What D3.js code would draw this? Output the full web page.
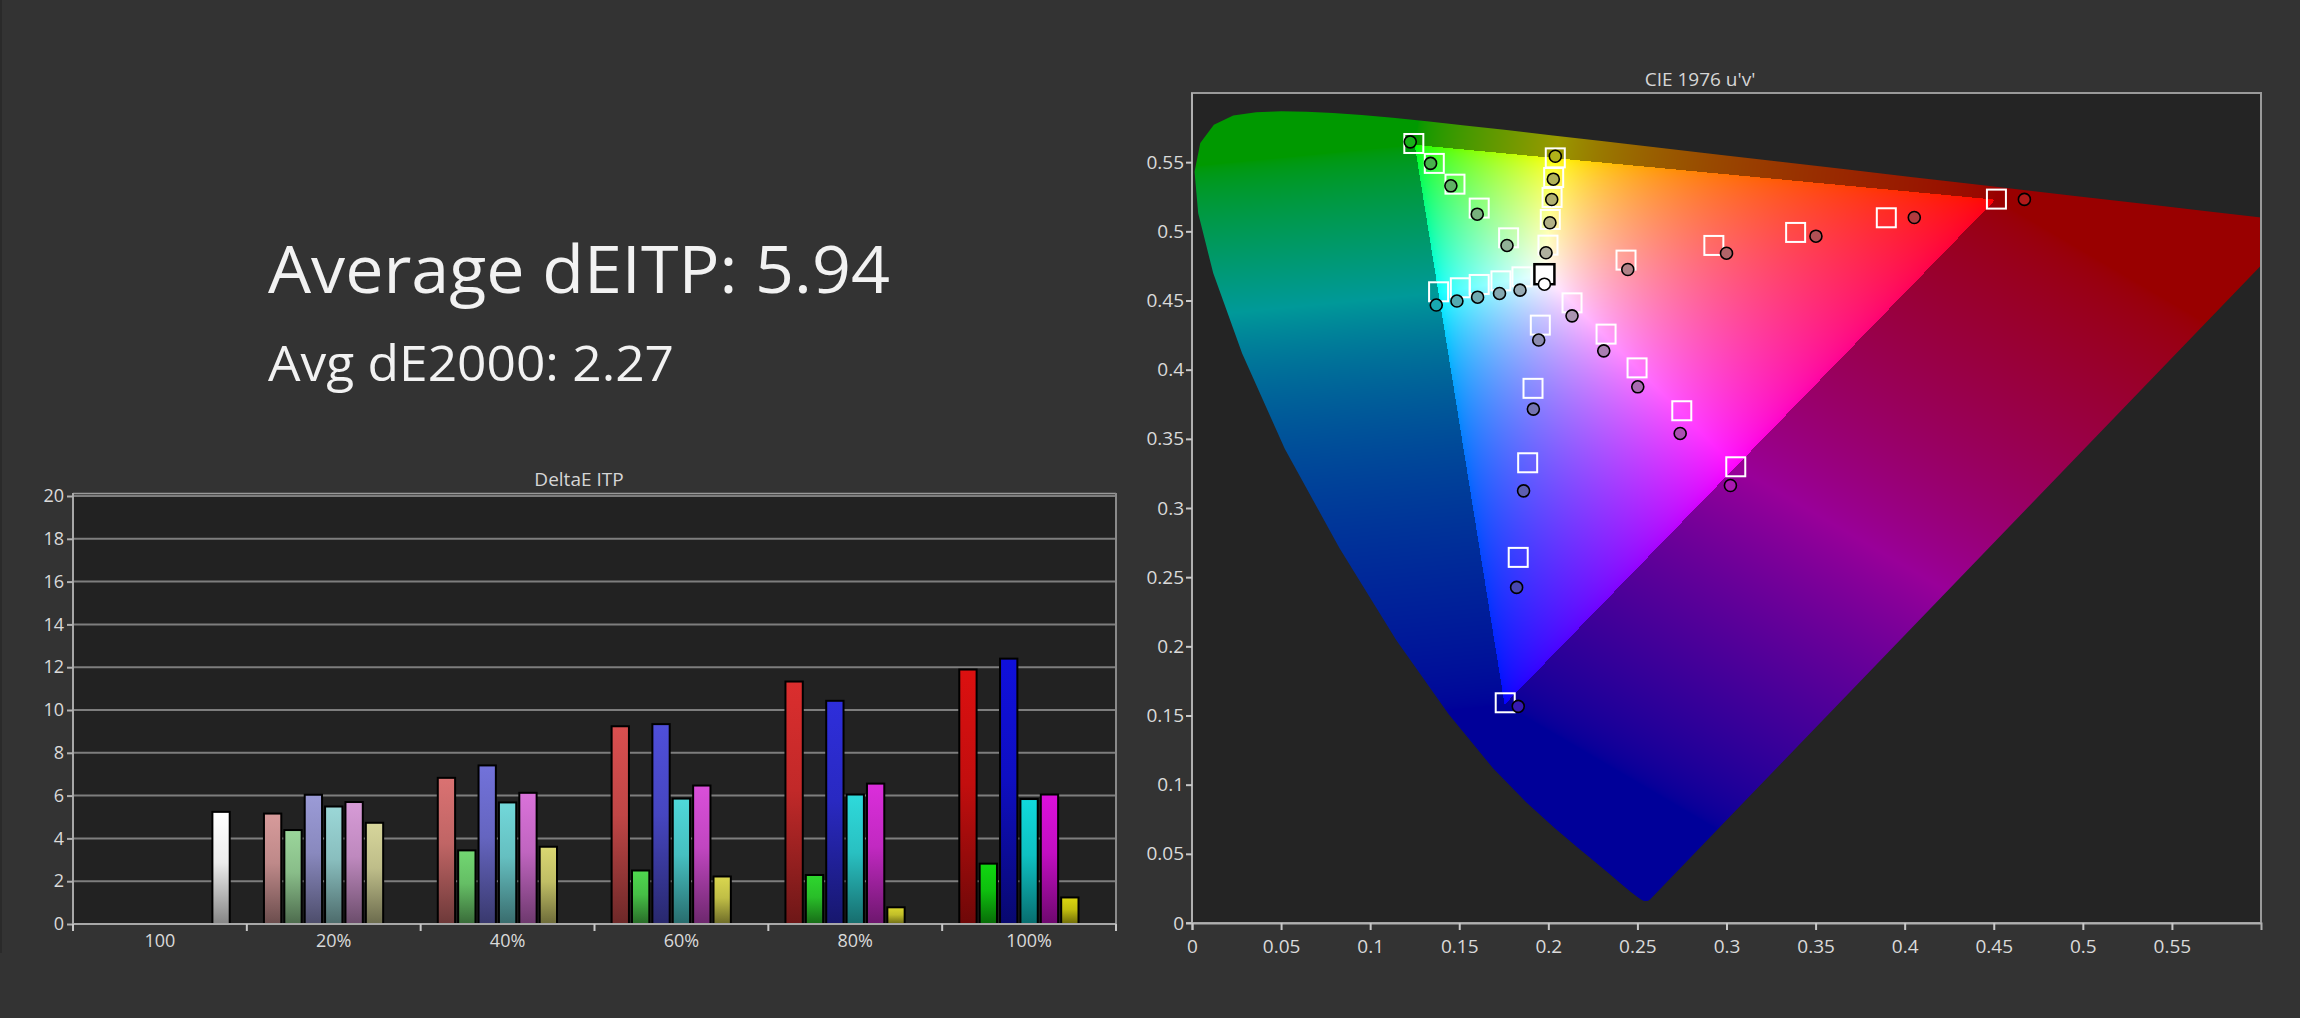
<!DOCTYPE html>
<html>
<head>
<meta charset="utf-8">
<script src="https://cdn.jsdelivr.net/npm/d3@7"></script>
<style>
  body { margin: 0; background: #333333; overflow: hidden; }
  text { font-family: "Open Sans", "Noto Sans", sans-serif; }
</style>
</head>
<body>
<script>
// ---- bar chart data (DeltaE ITP) ----
var barCategories = ["100", "20%", "40%", "60%", "80%", "100%"];
var barSeries = ["Red", "Green", "Blue", "Cyan", "Magenta", "Yellow", "White"];
var deRed     = [null, 5.16, 6.83, 9.24, 11.33, 11.89];
var deGreen   = [null, 4.39, 3.44, 2.50, 2.29, 2.82];
var deBlue    = [null, 6.04, 7.41, 9.34, 10.43, 12.40];
var deCyan    = [null, 5.49, 5.68, 5.86, 6.05, 5.84];
var deMagenta = [null, 5.70, 6.13, 6.47, 6.56, 6.05];
var deYellow  = [null, 4.73, 3.61, 2.22, 0.78, 1.24];
var deWhite   = [5.24, null, null, null, null, null];
var barYTicks = [0, 2, 4, 6, 8, 10, 12, 14, 16, 18, 20];
var barLevels = [1.0, 0.2, 0.4, 0.6, 0.8, 1.0];

// ---- CIE u'v' data: saturation sweeps 20%..100% ----
var cieLevels = ["20%", "40%", "60%", "80%", "100%"];
var targetRed     = [[0.2436, 0.4792], [0.2929, 0.4898], [0.3388, 0.4992], [0.3897, 0.5098], [0.4515, 0.5233]];
var measRed       = [[0.2446, 0.4724], [0.3000, 0.4842], [0.3502, 0.4965], [0.4054, 0.5100], [0.4672, 0.5231]];
var targetGreen   = [[0.1777, 0.4953], [0.1612, 0.5168], [0.1476, 0.5341], [0.1360, 0.5491], [0.1245, 0.5635]];
var measGreen     = [[0.1768, 0.4898], [0.1601, 0.5124], [0.1453, 0.5329], [0.1339, 0.5491], [0.1225, 0.5647]];
var targetBlue    = [[0.1955, 0.4322], [0.1914, 0.3865], [0.1884, 0.3327], [0.1831, 0.2643], [0.1758, 0.1592]];
var measBlue      = [[0.1946, 0.4214], [0.1916, 0.3715], [0.1861, 0.3124], [0.1822, 0.2426], [0.1831, 0.1566]];
var targetCyan    = [[0.1852, 0.4671], [0.1734, 0.4642], [0.1612, 0.4616], [0.1506, 0.4592], [0.1384, 0.4563]];
var measCyan      = [[0.1841, 0.4575], [0.1726, 0.4551], [0.1603, 0.4524], [0.1487, 0.4496], [0.1371, 0.4467]];
var targetMagenta = [[0.2133, 0.4483], [0.2324, 0.4257], [0.2498, 0.4013], [0.2749, 0.3703], [0.3052, 0.3298]];
var measMagenta   = [[0.2133, 0.4389], [0.2311, 0.4136], [0.2502, 0.3876], [0.2740, 0.3539], [0.3022, 0.3163]];
var targetYellow  = [[0.1998, 0.4900], [0.2011, 0.5086], [0.2021, 0.5245], [0.2030, 0.5389], [0.2039, 0.5531]];
var measYellow    = [[0.1987, 0.4845], [0.2009, 0.5062], [0.2019, 0.5230], [0.2028, 0.5377], [0.2039, 0.5543]];
var targetWhite   = [0.1978, 0.4690];
var measWhite     = [0.1978, 0.4618];
var uvTicks = [0, 0.05, 0.1, 0.15, 0.2, 0.25, 0.3, 0.35, 0.4, 0.45, 0.5, 0.55];

// Rec.709 primaries (x, y): red, green, blue
var rec709Primaries = [[0.64, 0.33], [0.30, 0.60], [0.15, 0.06]];

// CIE 1931 2deg spectral locus (x, y), 380-700 nm
var spectralLocus = [
  [0.1741, 0.0050], [0.1740, 0.0050], [0.1738, 0.0049], [0.1736, 0.0049], [0.1733, 0.0048],
  [0.1730, 0.0048], [0.1726, 0.0048], [0.1721, 0.0048], [0.1714, 0.0051], [0.1703, 0.0058],
  [0.1689, 0.0069], [0.1669, 0.0086], [0.1644, 0.0109], [0.1611, 0.0138], [0.1566, 0.0177],
  [0.1510, 0.0227], [0.1440, 0.0297], [0.1355, 0.0399], [0.1241, 0.0578], [0.1096, 0.0868],
  [0.0913, 0.1327], [0.0687, 0.2007], [0.0454, 0.2950], [0.0235, 0.4127], [0.0082, 0.5384],
  [0.0039, 0.6548], [0.0139, 0.7502], [0.0389, 0.8120], [0.0743, 0.8338], [0.1142, 0.8262],
  [0.1547, 0.8059], [0.1929, 0.7816], [0.2296, 0.7543], [0.2658, 0.7243], [0.3016, 0.6923],
  [0.3373, 0.6589], [0.3731, 0.6245], [0.4087, 0.5896], [0.4441, 0.5547], [0.4788, 0.5202],
  [0.5125, 0.4866], [0.5448, 0.4544], [0.5752, 0.4242], [0.6029, 0.3965], [0.6270, 0.3725],
  [0.6482, 0.3514], [0.6658, 0.3340], [0.6801, 0.3197], [0.6915, 0.3083], [0.7006, 0.2993],
  [0.7079, 0.2920], [0.7140, 0.2859], [0.7190, 0.2809], [0.7230, 0.2770], [0.7260, 0.2740],
  [0.7283, 0.2717], [0.7300, 0.2700], [0.7311, 0.2689], [0.7320, 0.2680], [0.7327, 0.2673],
  [0.7334, 0.2666], [0.7344, 0.2656], [0.7347, 0.2653]
];

var svgWidth = 2300;
var svgHeight = 1018;

var svg = d3.select("body").append("svg")
  .attr("width", svgWidth)
  .attr("height", svgHeight);

svg.append("rect").attr("width", svgWidth).attr("height", svgHeight).attr("fill", "#333333");
svg.append("rect").attr("width", 2).attr("height", 953).attr("fill", "#2a2a2a");

var defs = svg.append("defs");

// ---- headline numbers ----
svg.append("text")
  .attr("x", 268).attr("y", 293)
  .attr("font-size", 66)
  .attr("fill", "#f2f2f2")
  .attr("textLength", 622)
  .attr("lengthAdjust", "spacingAndGlyphs")
  .text("Average dEITP: 5.94");

svg.append("text")
  .attr("x", 268).attr("y", 381)
  .attr("font-size", 50)
  .attr("fill", "#f2f2f2")
  .attr("textLength", 406)
  .attr("lengthAdjust", "spacingAndGlyphs")
  .text("Avg dE2000: 2.27");

// ================= DeltaE ITP bar chart =================
var bar = { left: 73, right: 1116, top: 496, bottom: 924 };

var seriesValues = {
  Red: deRed, Green: deGreen, Blue: deBlue, Cyan: deCyan,
  Magenta: deMagenta, Yellow: deYellow, White: deWhite
};
var pureColors = {
  Red: "rgb(194,14,14)", Green: "rgb(14,190,14)", Blue: "rgb(14,14,194)",
  Cyan: "rgb(14,192,194)", Magenta: "rgb(194,14,194)", Yellow: "rgb(194,190,14)",
  White: "rgb(236,236,236)"
};

var x0 = d3.scaleBand().domain(barCategories).range([bar.left, bar.right]);
var x1 = d3.scaleBand().domain(barSeries).range([0, x0.bandwidth()])
  .paddingInner(0.15).paddingOuter(0.84);
var yBar = d3.scaleLinear().domain([0, 20]).range([bar.bottom, bar.top]);

var barGroup = svg.append("g");

barGroup.append("rect")
  .attr("x", bar.left).attr("y", bar.top)
  .attr("width", bar.right - bar.left).attr("height", bar.bottom - bar.top)
  .attr("fill", "#222222");

barGroup.append("text")
  .attr("x", 579).attr("y", 486)
  .attr("text-anchor", "middle")
  .attr("font-size", 19)
  .attr("fill", "#d6d6d6")
  .text("DeltaE ITP");

// grid lines
barGroup.selectAll(".grid")
  .data(barYTicks.filter(function(d) { return d > 0; }))
  .enter().append("line")
  .attr("x1", bar.left).attr("x2", bar.right)
  .attr("y1", function(d) { return yBar(d); })
  .attr("y2", function(d) { return yBar(d); })
  .attr("stroke", "#7e7e7e")
  .attr("stroke-width", 2);

// frame top + right
barGroup.append("line")
  .attr("x1", bar.left).attr("x2", bar.right)
  .attr("y1", bar.top - 2.5).attr("y2", bar.top - 2.5)
  .attr("stroke", "#9a9a9a").attr("stroke-width", 1.5);
barGroup.append("line")
  .attr("x1", bar.right).attr("x2", bar.right)
  .attr("y1", bar.top - 3).attr("y2", bar.bottom + 7)
  .attr("stroke", "#8a8a8a").attr("stroke-width", 2);

// bars
var barData = [];
barCategories.forEach(function(cat, i) {
  barSeries.forEach(function(s) {
    var v = seriesValues[s][i];
    if (v != null) barData.push({ cat: cat, i: i, series: s, value: v });
  });
});

barData.forEach(function(d) {
  var base;
  if (d.series === "White") {
    base = d3.rgb(pureColors.White);
  } else {
    var t = Math.pow(barLevels[d.i], 0.75);
    base = d3.rgb(d3.interpolateRgb("#bdbdbd", pureColors[d.series])(t));
  }
  var g = defs.append("linearGradient")
    .attr("id", "bar-" + d.i + "-" + d.series)
    .attr("x1", 0).attr("y1", 0).attr("x2", 0).attr("y2", 1);
  g.append("stop").attr("offset", "0%").attr("stop-color", base.brighter(0.35));
  g.append("stop").attr("offset", "45%").attr("stop-color", base);
  g.append("stop").attr("offset", "100%").attr("stop-color", base.darker(1.6));
});

barGroup.selectAll(".bar")
  .data(barData)
  .enter().append("rect")
  .attr("x", function(d) { return x0(d.cat) + x1(d.series); })
  .attr("y", function(d) { return yBar(d.value); })
  .attr("width", x1.bandwidth())
  .attr("height", function(d) { return yBar(0) - yBar(d.value); })
  .attr("fill", function(d) { return "url(#bar-" + d.i + "-" + d.series + ")"; })
  .attr("stroke", "#000")
  .attr("stroke-width", 2);

// y axis
var leftAxis = d3.axisLeft(yBar).tickValues(barYTicks).tickSize(6).tickPadding(3);
var yAxisG = barGroup.append("g")
  .attr("transform", "translate(" + bar.left + ",0)")
  .call(leftAxis);
yAxisG.select(".domain").attr("stroke", "#a8a8a8").attr("stroke-width", 2)
  .attr("d", "M0," + (bar.bottom + 7) + "V" + (bar.top - 3));
yAxisG.selectAll(".tick line").attr("stroke", "#b0b0b0").attr("stroke-width", 2);
yAxisG.selectAll(".tick text").attr("fill", "#dadada").attr("font-size", 18)
  .attr("font-family", "Open Sans");

// x axis line
barGroup.append("line")
  .attr("x1", bar.left).attr("x2", bar.right)
  .attr("y1", bar.bottom).attr("y2", bar.bottom)
  .attr("stroke", "#a8a8a8").attr("stroke-width", 2);

// x boundary ticks
var bounds = barCategories.map(function(c) { return x0(c); }).concat([bar.right]);
barGroup.selectAll(".xtick")
  .data(bounds)
  .enter().append("line")
  .attr("x1", function(d) { return d; }).attr("x2", function(d) { return d; })
  .attr("y1", bar.bottom).attr("y2", bar.bottom + 7)
  .attr("stroke", "#c8c8c8").attr("stroke-width", 2);

var bottomAxis = d3.axisBottom(x0).tickSize(0).tickPadding(0);
var xAxisG = barGroup.append("g")
  .attr("transform", "translate(0," + bar.bottom + ")")
  .call(bottomAxis);
xAxisG.select(".domain").remove();
xAxisG.selectAll(".tick text")
  .attr("y", 23).attr("dy", null)
  .attr("fill", "#dadada").attr("font-size", 18)
  .attr("font-family", "Open Sans");

// ================= CIE 1976 u'v' =================
var cie = { left: 1192, right: 2261, top: 93, bottom: 923 };
var xU = d3.scaleLinear().domain([0, 0.6]).range([cie.left, cie.right]);
var yV = d3.scaleLinear().domain([0, 0.6]).range([cie.bottom, cie.top]);

function xyToUv(p) {
  var d = -2 * p[0] + 12 * p[1] + 3;
  return [4 * p[0] / d, 9 * p[1] / d];
}

// chromaticity -> display rgb (0..1), flag for out of Rec.709 gamut
function uvToRgb(u, v, gamma) {
  var den = 6 * u - 16 * v + 12;
  var x = 9 * u / den, y = 4 * v / den;
  var X = x / y, Z = (1 - x - y) / y;
  var r = 3.2406 * X - 1.5372 - 0.4986 * Z;
  var g = -0.9689 * X + 1.8758 + 0.0415 * Z;
  var b = 0.0557 * X - 0.2040 + 1.0570 * Z;
  var out = r < -1e-4 || g < -1e-4 || b < -1e-4;
  r = Math.max(r, 0); g = Math.max(g, 0); b = Math.max(b, 0);
  var m = Math.max(r, g, b) || 1;
  return { rgb: [Math.pow(r / m, gamma), Math.pow(g / m, gamma), Math.pow(b / m, gamma)], out: out };
}

var gamutUv = rec709Primaries.map(xyToUv);
var gamutEdges = [[gamutUv[0], gamutUv[1]], [gamutUv[1], gamutUv[2]], [gamutUv[2], gamutUv[0]]];

// nearest point on the gamut triangle outline
function nearestOnGamut(u, v) {
  var best = null, bestD = Infinity;
  gamutEdges.forEach(function(e) {
    var a = e[0], b = e[1];
    var dx = b[0] - a[0], dy = b[1] - a[1];
    var t = ((u - a[0]) * dx + (v - a[1]) * dy) / (dx * dx + dy * dy);
    t = Math.max(0, Math.min(1, t));
    var fx = a[0] + t * dx, fy = a[1] + t * dy;
    var dd = (u - fx) * (u - fx) + (v - fy) * (v - fy);
    if (dd < bestD) { bestD = dd; best = [fx, fy]; }
  });
  return best;
}

var locusUv = spectralLocus.map(xyToUv);

var cieGroup = svg.append("g");

cieGroup.append("rect")
  .attr("x", cie.left).attr("y", cie.top)
  .attr("width", cie.right - cie.left).attr("height", cie.bottom - cie.top)
  .attr("fill", "#242424");

cieGroup.append("text")
  .attr("x", 1700).attr("y", 86)
  .attr("text-anchor", "middle")
  .attr("font-size", 19)
  .attr("fill", "#d6d6d6")
  .text("CIE 1976 u'v'");

// colour fill of the diagram, rendered on a canvas
var cw = cie.right - cie.left, ch = cie.bottom - cie.top;
var canvas = document.createElement("canvas");
canvas.width = cw; canvas.height = ch;
var ctx = canvas.getContext("2d");
var img = ctx.createImageData(cw, ch);
for (var py = 0; py < ch; py++) {
  var v = yV.invert(cie.top + py + 0.5);
  for (var px = 0; px < cw; px++) {
    var u = xU.invert(cie.left + px + 0.5);
    var c = uvToRgb(u, v, 0.625);
    var k = 1;
    if (c.out) {
      var f = nearestOnGamut(u, v);
      c = uvToRgb(f[0], f[1], 0.625);
      k = 0.6;
    }
    var o = (py * cw + px) * 4;
    img.data[o] = c.rgb[0] * 255 * k;
    img.data[o + 1] = c.rgb[1] * 255 * k;
    img.data[o + 2] = c.rgb[2] * 255 * k;
    img.data[o + 3] = 255;
  }
}
ctx.putImageData(img, 0, 0);
ctx.globalCompositeOperation = "destination-in";
ctx.beginPath();
d3.line()
  .x(function(d) { return xU(d[0]) - cie.left; })
  .y(function(d) { return yV(d[1]) - cie.top; })
  .context(ctx)(locusUv);
ctx.closePath();
ctx.fill();

defs.append("clipPath").attr("id", "cie-clip")
  .append("rect")
  .attr("x", cie.left).attr("y", cie.top)
  .attr("width", cw).attr("height", ch);

cieGroup.append("image")
  .attr("x", cie.left).attr("y", cie.top)
  .attr("width", cw).attr("height", ch)
  .attr("href", canvas.toDataURL())
  .attr("clip-path", "url(#cie-clip)");

// frame
cieGroup.append("rect")
  .attr("x", cie.left).attr("y", cie.top)
  .attr("width", cw).attr("height", ch)
  .attr("fill", "none")
  .attr("stroke", "#9a9a9a")
  .attr("stroke-width", 2);

// axes
var uvFormat = d3.format("~g");
var cieLeft = cieGroup.append("g")
  .attr("transform", "translate(" + cie.left + ",0)")
  .call(d3.axisLeft(yV).tickValues(uvTicks).tickFormat(uvFormat).tickSize(6).tickPadding(2));
var cieBottom = cieGroup.append("g")
  .attr("transform", "translate(0," + cie.bottom + ")")
  .call(d3.axisBottom(xU).tickValues(uvTicks).tickFormat(uvFormat).tickSize(7).tickPadding(6));
[cieLeft, cieBottom].forEach(function(a) {
  a.select(".domain").attr("stroke", "#b0b0b0").attr("stroke-width", 2);
  a.selectAll(".tick line").attr("stroke", "#c8c8c8").attr("stroke-width", 2);
  a.selectAll(".tick text").attr("fill", "#dadada").attr("font-size", 19)
    .attr("font-family", "Open Sans");
});
cieLeft.select(".domain").attr("d", "M-6," + cie.bottom + "H0V" + cie.top);
cieBottom.selectAll(".tick text").attr("y", 30).attr("dy", null);

// target squares and measured circles
var targets = [targetRed, targetGreen, targetBlue, targetCyan, targetMagenta, targetYellow];
var measured = [measRed, measGreen, measBlue, measCyan, measMagenta, measYellow];
var sq = 19;

var targetPts = [];
targets.forEach(function(s) { s.forEach(function(p) { targetPts.push(p); }); });
var measPts = [];
measured.forEach(function(s) { s.forEach(function(p) { measPts.push(p); }); });

var marks = cieGroup.append("g").attr("clip-path", "url(#cie-clip)");

marks.selectAll(".target")
  .data(targetPts)
  .enter().append("rect")
  .attr("x", function(d) { return xU(d[0]) - sq / 2; })
  .attr("y", function(d) { return yV(d[1]) - sq / 2; })
  .attr("width", sq).attr("height", sq)
  .attr("fill", "none")
  .attr("stroke", "#ffffff")
  .attr("stroke-width", 2);

marks.append("rect")
  .attr("x", xU(targetWhite[0]) - 10)
  .attr("y", yV(targetWhite[1]) - 10)
  .attr("width", 20).attr("height", 20)
  .attr("fill", "#ffffff")
  .attr("stroke", "#000000")
  .attr("stroke-width", 2.5);

marks.selectAll(".meas")
  .data(measPts)
  .enter().append("circle")
  .attr("cx", function(d) { return xU(d[0]); })
  .attr("cy", function(d) { return yV(d[1]); })
  .attr("r", 6)
  .attr("fill", function(d) {
    var c = uvToRgb(d[0], d[1], 1 / 2.2).rgb;
    var col = d3.rgb(c[0] * 178, c[1] * 178, c[2] * 178);
    return d3.interpolateRgb(col, "#a8a8a8")(0.15);
  })
  .attr("stroke", "#000")
  .attr("stroke-width", 1.6);

marks.append("circle")
  .attr("cx", xU(measWhite[0]))
  .attr("cy", yV(measWhite[1]))
  .attr("r", 6)
  .attr("fill", "#ffffff")
  .attr("stroke", "#000")
  .attr("stroke-width", 1.6);
</script>
</body>
</html>
